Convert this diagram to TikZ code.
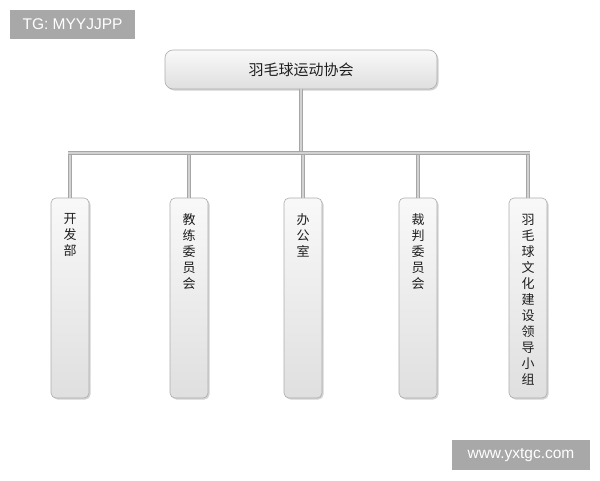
\documentclass[tikz,border=0pt]{standalone}
\usepackage{fontspec}
\setmainfont{Liberation Sans}
\newfontfamily\cjk{Noto Sans CJK SC}
\usetikzlibrary{shadows}
\definecolor{tagc}{HTML}{A8A8A8}
\definecolor{linec}{HTML}{A6A6A6}
\definecolor{linein}{HTML}{D2D2D2}
\begin{document}
\begin{tikzpicture}[x=1pt,y=-1pt,
  box/.style={draw=gray!65, line width=0.6pt, rounded corners=5pt,
    top color=gray!5, bottom color=gray!25,
    drop shadow={shadow xshift=1.5pt, shadow yshift=-1.5pt, opacity=0.35}},
  childbox/.style={box, minimum width=38pt, minimum height=200pt, inner sep=0pt},
  conn/.style={draw=linec, line width=1pt, double=linein, double distance=1.4pt},
  vtext/.style={font=\cjk\fontsize{13}{16}\selectfont, align=center, anchor=north, inner sep=0pt, text=black!88},
  tag/.style={fill=tagc, text=white, font=\fontsize{15.5}{17}\selectfont, inner sep=0pt}]
\useasboundingbox (0,0) rectangle (600,480);
% tags
\node[tag, minimum width=125pt, minimum height=29pt] (tg) at (72.5,24.5) {TG: MYYJJPP};
\node[tag, minimum width=138pt, minimum height=30pt] (web) at (521,455) {www.yxtgc.com};
% top box
\node[box, rounded corners=8pt, minimum width=272pt, minimum height=39pt, inner sep=0pt,
      font=\cjk\fontsize{15}{17}\selectfont, text=black!88] (top) at (301,69.5) {羽毛球运动协会};
% children
\node[childbox] (c1) at (70,298) {};
\node[childbox] (c2) at (189,298) {};
\node[childbox] (c3) at (303,298) {};
\node[childbox] (c4) at (418,298) {};
\node[childbox] (c5) at (528,298) {};
% connectors
\coordinate (bl) at (68,153);
\coordinate (br) at (530,153);
\draw[conn] (top.south) -- (top.south |- bl);
\foreach \c in {c1,c2,c3,c4,c5}{
  \draw[conn] (\c.north) -- (\c.north |- bl);
}
\draw[conn] (bl) -- (br);
% texts
\node[vtext] (t1) at ([yshift=-16pt]c1.north) {开\\发\\部};
\node[vtext] (t2) at ([yshift=-16pt]c2.north) {教\\练\\委\\员\\会};
\node[vtext] (t3) at ([yshift=-16pt]c3.north) {办\\公\\室};
\node[vtext] (t4) at ([yshift=-16pt]c4.north) {裁\\判\\委\\员\\会};
\node[vtext] (t5) at ([yshift=-16pt]c5.north) {羽\\毛\\球\\文\\化\\建\\设\\领\\导\\小\\组};
\end{tikzpicture}
\end{document}
